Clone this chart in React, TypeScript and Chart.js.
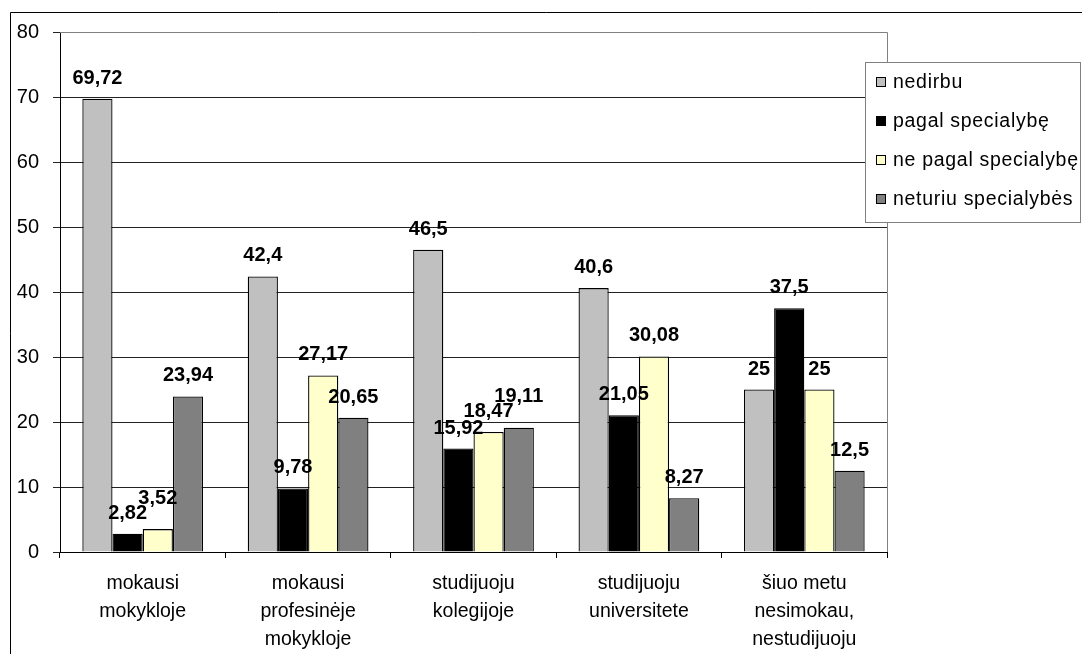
import React, { useEffect, useRef } from 'react';
import { Chart, registerables } from 'chart.js';

Chart.register(...registerables);

const categories: string[][] = [
  ['mokausi', 'mokykloje'],
  ['mokausi', 'profesinėje', 'mokykloje'],
  ['studijuoju', 'kolegijoje'],
  ['studijuoju', 'universitete'],
  ['šiuo metu', 'nesimokau,', 'nestudijuoju'],
];
const seriesNames = ['nedirbu', 'pagal specialybę', 'ne pagal specialybę', 'neturiu specialybės'];
const nedirbu = [69.72, 42.4, 46.5, 40.6, 25];
const pagalSpecialybe = [2.82, 9.78, 15.92, 21.05, 37.5];
const nePagalSpecialybe = [3.52, 27.17, 18.47, 30.08, 25];
const neturiuSpecialybes = [23.94, 20.65, 19.11, 8.27, 12.5];
const seriesColors = ['#C0C0C0', '#000000', '#FFFFCC', '#808080'];
const yMin = 0;
const yMax = 80;
const yStep = 10;

const FONT = '"Liberation Sans", Arial, sans-serif';

const fmt = (v: number) => String(v).replace('.', ',');

const decorPlugin = {
  id: 'decor',
  afterDatasetsDraw(chart: any) {
    const ctx = chart.ctx as CanvasRenderingContext2D;
    const area = chart.chartArea;
    // gray plot-area border (top & right)
    ctx.save();
    ctx.strokeStyle = '#808080';
    ctx.lineWidth = 1;
    ctx.beginPath();
    ctx.moveTo(area.left, Math.round(area.top) + 0.5);
    ctx.lineTo(Math.round(area.right) + 0.5, Math.round(area.top) + 0.5);
    ctx.lineTo(Math.round(area.right) + 0.5, area.bottom);
    ctx.stroke();
    ctx.restore();

    // data labels with simple overlap avoidance
    ctx.save();
    ctx.font = 'bold 20px ' + FONT;
    ctx.fillStyle = '#000';
    ctx.textAlign = 'center';
    ctx.textBaseline = 'alphabetic';
    const GAP = 15;
    const H = 15;
    const nCat = chart.data.labels.length;
    for (let j = 0; j < nCat; j++) {
      const placed: { x: number; w: number; bottom: number }[] = [];
      chart.data.datasets.forEach((ds: any, i: number) => {
        const el = chart.getDatasetMeta(i).data[j] as any;
        const text = fmt(ds.data[j]);
        const w = ctx.measureText(text).width;
        let bottom = el.y - GAP;
        let changed = true;
        let guard = 0;
        while (changed && guard < 10) {
          changed = false;
          guard++;
          for (const p of placed) {
            const hOverlap = Math.abs(p.x - el.x) < (p.w + w) / 2;
            const vOverlap = bottom - H < p.bottom && bottom > p.bottom - H;
            if (hOverlap && vOverlap) {
              bottom = p.bottom - H;
              changed = true;
            }
          }
        }
        placed.push({ x: el.x, w, bottom });
        ctx.fillText(text, el.x, bottom);
      });
    }
    ctx.restore();
  },
  afterDraw(chart: any) {
    const ctx = chart.ctx as CanvasRenderingContext2D;
    ctx.save();
    // outer chart border
    ctx.strokeStyle = '#000';
    ctx.lineWidth = 1;
    ctx.beginPath();
    ctx.moveTo(10.5, 654);
    ctx.lineTo(10.5, 12.5);
    ctx.lineTo(1082, 12.5);
    ctx.stroke();

    // legend
    const lx = 865, ly = 62, lw = 216, lh = 161;
    ctx.fillStyle = '#fff';
    ctx.fillRect(lx, ly, lw, lh);
    ctx.strokeStyle = '#808080';
    ctx.strokeRect(lx + 0.5, ly + 0.5, lw - 1, lh - 1);
    ctx.font = '19.5px ' + FONT;
    (ctx as any).letterSpacing = '0.7px';
    ctx.textAlign = 'left';
    ctx.textBaseline = 'middle';
    seriesNames.forEach((name, i) => {
      const y = 82 + i * 39;
      ctx.fillStyle = seriesColors[i];
      ctx.fillRect(876, y - 5, 10, 10);
      ctx.strokeStyle = '#000';
      ctx.strokeRect(876.5, y - 4.5, 9, 9);
      ctx.fillStyle = '#000';
      ctx.fillText(name, 893, y + 1);
    });
    (ctx as any).letterSpacing = '0px';
    ctx.restore();
  },
};

export default function App() {
  const ref = useRef<HTMLCanvasElement | null>(null);
  useEffect(() => {
    document.body.style.margin = '0';
    const canvas = ref.current!;
    const series = [nedirbu, pagalSpecialybe, nePagalSpecialybe, neturiuSpecialybes];
    const chart = new Chart(canvas, {
      type: 'bar',
      data: {
        labels: categories as any,
        datasets: series.map((d, i) => ({
          label: seriesNames[i],
          data: d,
          backgroundColor: seriesColors[i],
          borderColor: '#000',
          borderWidth: 1.3,
          barPercentage: 1,
          categoryPercentage: 0.73,
        })),
      },
      options: {
        responsive: false,
        animation: false,
        devicePixelRatio: 1,
        layout: { padding: { left: 0, top: 32, right: 195, bottom: 0 } },
        plugins: {
          legend: { display: false },
          tooltip: { enabled: false },
          title: { display: false },
        },
        scales: {
          x: {
            afterFit: (s: any) => { s.height = 102; },
            border: { color: '#000', width: 1 },
            grid: {
              display: true,
              drawOnChartArea: false,
              drawTicks: true,
              tickLength: 6,
              offset: true,
              color: '#000',
            },
            ticks: {
              color: '#000',
              font: { family: FONT, size: 19.5, lineHeight: 1.42 },
              padding: 12,
              maxRotation: 0,
              autoSkip: false,
            },
          },
          y: {
            min: yMin,
            max: yMax,
            afterFit: (s: any) => { s.width = 60; },
            border: { color: '#000', width: 1 },
            grid: {
              color: '#222',
              drawTicks: true,
              tickLength: 7,
            },
            ticks: {
              stepSize: yStep,
              color: '#000',
              font: { family: FONT, size: 20 },
              padding: 14,
            },
          },
        },
      },
      plugins: [decorPlugin],
    });
    return () => chart.destroy();
  }, []);
  return (
    <div style={{ width: 1082, height: 654, position: 'relative' }}>
      <canvas ref={ref} width={1082} height={654} style={{ display: 'block' }} />
    </div>
  );
}
